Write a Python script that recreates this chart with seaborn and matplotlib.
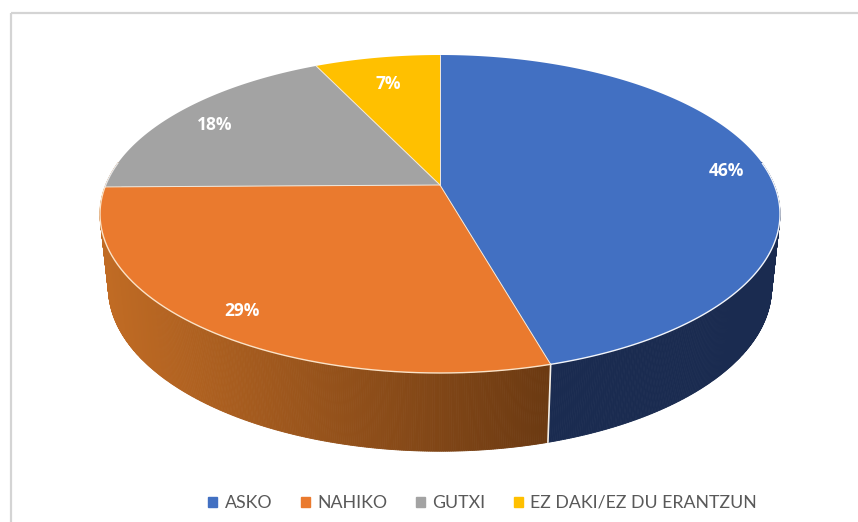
import numpy as np
import seaborn as sns
import matplotlib
matplotlib.use("Agg")
import matplotlib.pyplot as plt
from matplotlib.patches import Patch, Rectangle

labels = ["ASKO", "NAHIKO", "GUTXI", "EZ DAKI/EZ DU ERANTZUN"]
values = [45.6, 29.2, 18.1, 7.1]
colors = ["#4270C2", "#EA7A2E", "#A3A3A3", "#FFC000"]

sns.set_theme(style="white")
plt.rcParams["font.family"] = ["Lato", "DejaVu Sans"]
palette = sns.color_palette(colors)

# perspective of the disc: far side is squeezed
k = 0.1824
top = dict(cx=440, cy=185, a=334.3, b=153.7)
low = dict(cx=440, cy=258, a=326, b=158)


def project(theta, r, p):
    u, v = r*np.sin(theta), r*np.cos(theta)
    w = 1 + k*v
    return p["cx"] + p["a"]*u/w, p["cy"] - p["b"]*v/w


fig = plt.figure(figsize=(8.58, 5.22), dpi=100)
ax = fig.add_axes([0, 0, 1, 1])
ax.set_xlim(0, 858)
ax.set_ylim(522, 0)
ax.axis("off")
ax.add_patch(Rectangle((10.5, 12.5), 880, 560, fill=False, ec="#d4d4d4", lw=1.6))

edges = np.radians(np.cumsum([0] + values)*3.6)
side_left = np.array([192, 107, 36])/255
side_right = np.array([108, 58, 18])/255
side_blue = np.array([26, 43, 80])/255

# rim side, made of thin strips
for i in range(len(values)):
    th = np.linspace(edges[i], edges[i+1], max(int(values[i]*12), 2))
    for t0, t1 in zip(th[:-1], th[1:]):
        if np.cos(t0) > 0.15 and np.cos(t1) > 0.15:
            continue
        x0, y0 = project(t0, 1, top)
        x1, y1 = project(t1, 1, top)
        x2, y2 = project(t1, 1, low)
        x3, y3 = project(t0, 1, low)
        if i == 0:
            c = side_blue
        else:
            f = np.clip((x0 - 105)/(546 - 105), 0, 1)
            c = side_left*(1 - f) + side_right*f
        ax.fill([x0, x1, x2, x3], [y0, y1, y2, y3], color=c, lw=0.6)

# white seam between blue and orange on the rim
x0, y0 = project(edges[1], 1, top)
x1, y1 = project(edges[1], 1, low)
ax.plot([x0, x1], [y0, y1], color="#f4efe8", lw=1.2)

# top face
rim_cols = ["#f2f5fb", "#fbe3c8", "#e8e8e8", "#fff0c0"]
for i in range(len(values)):
    th = np.linspace(edges[i], edges[i+1], 200)
    x, y = project(th, 1, top)
    ax.fill(np.r_[top["cx"], x], np.r_[top["cy"], y], color=palette[i], lw=0)
    ax.plot(x[np.cos(th) < 0.15], y[np.cos(th) < 0.15], color=rim_cols[i], lw=1.0)
    xe, ye = project(edges[i], 1, top)
    ax.plot([top["cx"], xe], [top["cy"], ye], color="#f3e9dc", lw=0.7)

# percentages
for i, val in enumerate(values):
    mid = (edges[i] + edges[i+1])/2
    x, y = project(mid, [0.885, 0.865, 0.86, 0.80][i], top)
    ax.text(x, y + 4, "{:.0f}%".format(val), color="white", fontsize=12.5,
            fontfamily="Open Sans", fontweight="bold", ha="center", va="center")

handles = [Patch(color=c, label=l) for c, l in zip(palette, labels)]
ax.legend(handles=handles, loc="center", bbox_to_anchor=(482.5/858, 1 - 503/522),
          ncol=4, frameon=False, fontsize=12.8, labelcolor="#595959",
          handlelength=0.5, handleheight=0.5, handletextpad=0.4, columnspacing=1.62)

fig.savefig("out.png", dpi=100)
